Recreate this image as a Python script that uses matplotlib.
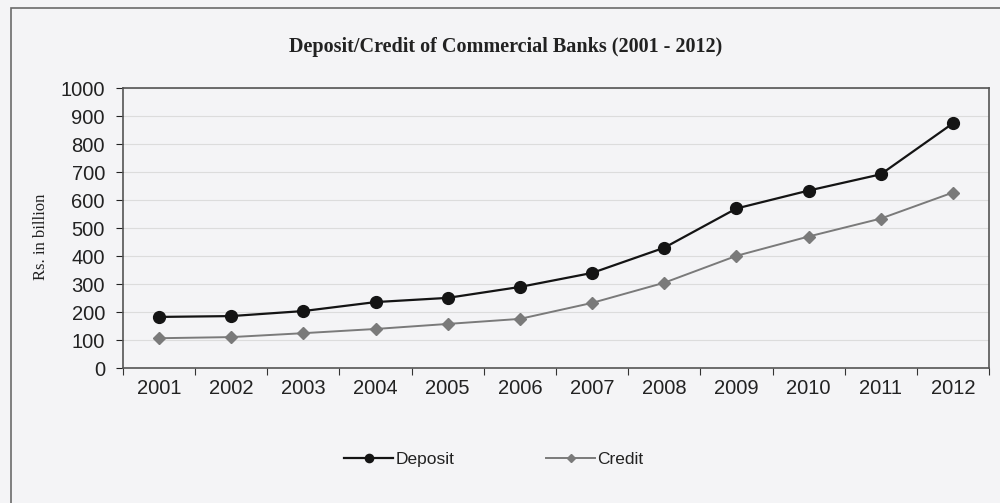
import matplotlib.pyplot as plt
from matplotlib.patches import Rectangle

years = ["2001", "2002", "2003", "2004", "2005", "2006",
         "2007", "2008", "2009", "2010", "2011", "2012"]
deposit = [183, 186, 204, 236, 251, 290, 340, 430, 570, 634, 692, 874]
credit = [107, 111, 125, 140, 158, 176, 233, 305, 401, 470, 534, 627]
y_ticks = list(range(0, 1001, 100))

plt.rcParams["font.family"] = ["Liberation Sans", "DejaVu Sans"]

bg = "#f4f4f6"
fig = plt.figure(figsize=(10, 5.03), dpi=100, facecolor=bg)

# outer frame of the chart area
fig.patches.append(Rectangle((0.011, -0.05), 1.1, 1.034, transform=fig.transFigure,
                             fill=False, edgecolor="#6a6a6a", linewidth=1.2))

ax = fig.add_axes([0.123, 0.268, 0.866, 0.557])
ax.set_facecolor(bg)

x = list(range(len(years)))
ax.plot(x, deposit, color="#141414", linewidth=1.6, marker="o", markersize=8.5,
        label="Deposit", zorder=3)
ax.plot(x, credit, color="#7a7a7a", linewidth=1.4, marker="D", markersize=6,
        label="Credit", zorder=3)

ax.set_xlim(-0.5, len(years) - 0.5)
ax.set_ylim(0, 1000)
ax.set_yticks(y_ticks)
ax.tick_params(axis="y", labelsize=14.5, length=5, pad=8, direction="out",
               colors="#222222")

# category ticks sit between the years, labels centred on each year
ax.set_xticks([i - 0.5 for i in range(len(years) + 1)])
ax.set_xticklabels([])
ax.set_xticks(x, minor=True)
ax.set_xticklabels(years, minor=True)
ax.tick_params(axis="x", which="major", length=5, direction="out", color="#333333")
ax.tick_params(axis="x", which="minor", length=0, labelsize=14.5, pad=8,
               labelcolor="#222222")

ax.grid(axis="y", color="#dcdcdc", linewidth=0.8)
ax.set_axisbelow(True)
for side in ["left", "bottom", "top", "right"]:
    ax.spines[side].set_color("#555555")
    ax.spines[side].set_linewidth(1.2)

ax.set_ylabel("Rs. in billion", family="Liberation Serif", fontsize=12,
              color="#222222")
ax.yaxis.set_label_coords(-0.086, 0.468)

fig.text(0.506, 0.907, "Deposit/Credit of Commercial Banks (2001 - 2012)",
         ha="center", va="center", family="Liberation Serif",
         fontweight="bold", fontsize=14.5, color="#222222")

fig.legend(loc="center", bbox_to_anchor=(0.494, 0.087), ncol=2, frameon=False,
           fontsize=12.5, columnspacing=5.3, handlelength=2.8, handletextpad=0.15,
           markerscale=0.7, labelcolor="#222222")

fig.savefig("out.png", dpi=100, facecolor=bg)
